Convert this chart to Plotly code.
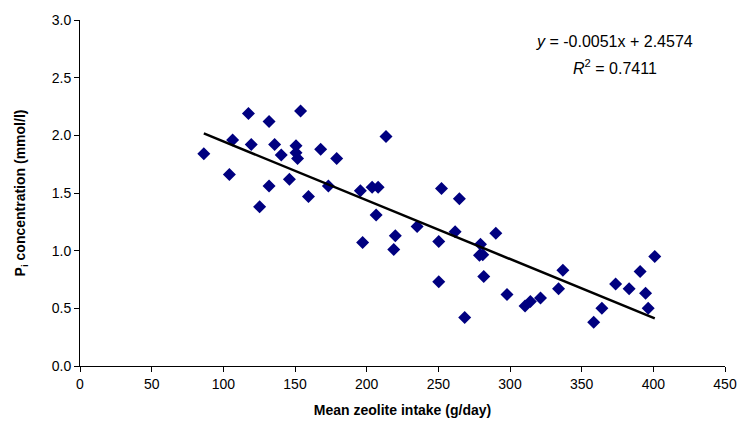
import plotly.graph_objects as go

# Data
intake = [86.4, 104.2, 106.5, 117.5, 119.5, 125.3, 131.9, 131.9, 135.8, 140.4,
          146.1, 150.7, 150.7, 151.8, 153.9, 159.4, 167.9, 173.3, 179.1, 195.6,
          197.2, 203.8, 206.6, 208.0, 213.5, 218.9, 220.0, 235.2, 250.3, 250.3,
          252.2, 261.7, 264.7, 268.4, 278.7, 279.4, 281.0, 281.7, 290.1, 297.9,
          310.5, 314.2, 321.3, 333.9, 336.9, 358.4, 364.1, 373.7, 383.1, 390.8,
          394.6, 396.4, 401.0]
pi_conc = [1.84, 1.66, 1.96, 2.19, 1.92, 1.38, 2.12, 1.56, 1.92, 1.83,
           1.62, 1.91, 1.85, 1.80, 2.21, 1.47, 1.88, 1.56, 1.80, 1.52,
           1.07, 1.55, 1.31, 1.55, 1.99, 1.01, 1.13, 1.21, 1.08, 0.73,
           1.54, 1.165, 1.45, 0.42, 0.96, 1.055, 0.965, 0.775, 1.15, 0.62,
           0.52, 0.56, 0.59, 0.67, 0.83, 0.38, 0.50, 0.71, 0.67, 0.82,
           0.63, 0.50, 0.95]

# Trendline from the printed equation
slope = -0.0051
intercept = 2.4574
r_squared = 0.7411
trend_x = [min(intake), max(intake)]
trend_y = [slope * v + intercept for v in trend_x]

font_name = 'Liberation Sans, Arial'

fig = go.Figure()

fig.add_trace(go.Scatter(x=intake, y=pi_conc, mode='markers',
                         marker=dict(symbol='diamond', size=10, color='#000080'),
                         showlegend=False))
fig.add_trace(go.Scatter(x=trend_x, y=trend_y, mode='lines',
                         line=dict(color='black', width=2.5),
                         showlegend=False))

# equation and R^2, two lines like the Excel label
fig.add_annotation(x=373, y=2.81, xref='x', yref='y',
                   text=f'<i>y</i> = {slope}x + {intercept}',
                   showarrow=False, font=dict(family=font_name, size=16, color='black'))
fig.add_annotation(x=373, y=2.59, xref='x', yref='y',
                   text=f'<i>R</i><sup>2</sup> = {r_squared}',
                   showarrow=False, font=dict(family=font_name, size=16, color='black'))

axis_style = dict(showline=True, linecolor='black', linewidth=1, showgrid=False,
                  zeroline=False, ticks='outside', ticklen=5, tickcolor='black',
                  automargin=False,
                  tickfont=dict(family=font_name, size=14, color='black'))

fig.update_xaxes(range=[0, 450], dtick=50, tick0=0,
                 title=dict(text='<b>Mean zeolite intake (g/day)</b>', standoff=14,
                            font=dict(family=font_name, size=14, color='black')),
                 **axis_style)
fig.update_yaxes(range=[0, 3], dtick=0.5, tick0=0, tickformat='.1f',
                 title=dict(text='<b>P<sub>i</sub> concentration (mmol/l)</b>', standoff=22,
                            font=dict(family=font_name, size=14, color='black')),
                 **axis_style)

# page body has an 8px margin, so the figure starts at (8, 8);
# right margin leaves room for the "450" label
fig.update_layout(width=731, height=414, autosize=False,
                  margin=dict(l=72, r=14, t=12, b=56),
                  plot_bgcolor='white', paper_bgcolor='white')

fig.write_html("out.html")
